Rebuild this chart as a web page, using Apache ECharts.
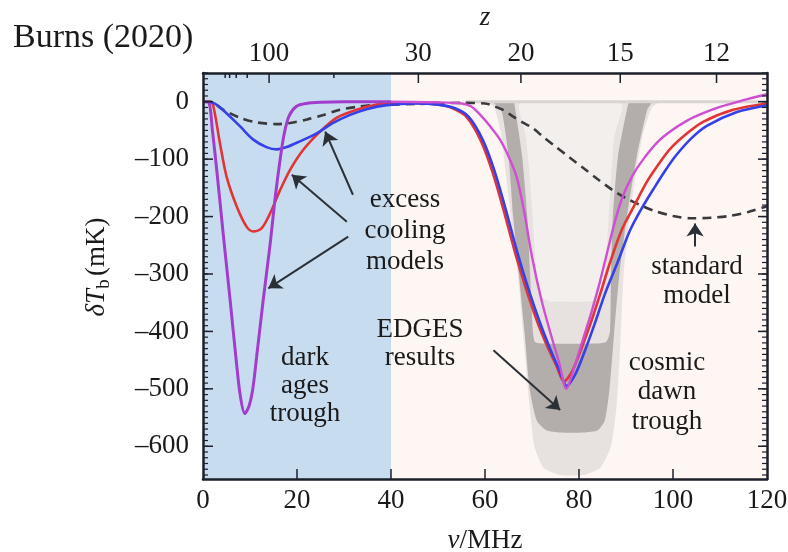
<!DOCTYPE html>
<html>
<head>
<meta charset="utf-8">
<script src="https://cdn.jsdelivr.net/npm/echarts@6.0.0/dist/echarts.min.js"></script>
<style>
  html, body { margin: 0; padding: 0; background: #ffffff; }
  #chart { width: 788px; height: 552px; }
</style>
</head>
<body>
<div id="chart"></div>
<script>
// 21-cm global signal: brightness temperature vs. frequency / redshift
const REST_FREQ = 1420.4; // MHz

// axis ticks
const nuTicks = [0, 20, 40, 60, 80, 100, 120];
const tbTicks = [0, -100, -200, -300, -400, -500, -600];
const tbMinorStep = 10;
const zMajor = [100, 30, 20, 15, 12];
const zMinor = [300, 250, 200, 150, 50];

// era shading (MHz)
const darkAgesRange = [0, 40];
const cosmicDawnRange = [40, 120];

// standard model (dashed)
const nuStandard = [0, 1.5, 4.3, 7.9, 11.4, 15.7, 18.5, 22.1, 25.6, 29.1, 32.7, 36.2, 40, 45, 50, 55, 60, 62, 64, 66, 68, 70, 72.5, 75, 78, 81, 84, 87, 90, 93, 96, 100, 104, 108, 112, 116, 120];
const tbStandard = [0, 0, -14, -28, -36, -39, -37, -31, -23, -14, -9, -6, -5, -4, -3, -2, -3, -8, -15, -26, -36, -45, -62, -78, -97, -116, -135, -153, -168, -180, -190, -199, -203, -202, -199, -192, -182];

// excess cooling model (blue)
const nuBlue = [0, 2.2, 5, 7.9, 10.7, 13.5, 15.7, 17.8, 20.6, 24.2, 27.7, 31.3, 34.8, 39.1, 45, 50, 53.5, 56.5, 59.5, 62, 64.5, 66.8, 69.2, 71.7, 73.7, 75.7, 77.4, 79.2, 81.2, 83.2, 85.5, 88.2, 90.8, 93.4, 96, 98.5, 100.8, 104, 107.2, 113.6, 120];
const tbBlue = [0, -2, -20, -43, -66, -79, -83, -79, -69, -55, -37, -23, -13, -6, -3, -5, -11, -26, -66, -120, -190, -260, -325, -385, -427, -465, -495, -475, -435, -390, -335, -280, -225, -185, -150, -118, -92, -63, -42, -18, -6];

// excess cooling model (red)
const nuRed = [0, 1.5, 2.2, 3.6, 5, 7.2, 9.3, 10.7, 12.5, 14.3, 16.4, 18.5, 21.3, 24.9, 28.4, 32.7, 37, 40.4, 46, 50, 53, 56, 59, 61.5, 64, 66.3, 68.7, 71.2, 73.2, 75.2, 76.8, 78.5, 80.5, 82.5, 84.5, 86.6, 89, 91.5, 94.4, 97, 99.4, 103, 106.4, 112.8, 120];
const tbRed = [0, 0, -8, -72, -130, -183, -218, -226, -220, -194, -154, -119, -84, -52, -28, -14, -5, -2, -2, -5, -11, -26, -66, -120, -190, -260, -325, -385, -425, -460, -487, -470, -430, -385, -335, -280, -225, -185, -140, -108, -82, -55, -35, -14, -3];

// excess cooling model (violet, dark ages part)
const nuViolet = [0, 1.2, 2, 3, 4.3, 5.7, 7, 7.9, 8.9, 9.8, 10.6, 11.4, 12.8, 14.3, 15.3, 16.4, 17.3, 18.3, 19.9, 22, 25, 30, 40];
const tbViolet = [0, -1, -50, -125, -230, -340, -445, -510, -543, -530, -500, -445, -346, -247, -171, -101, -55, -25, -8, -3, -1, 0, 0];

// same model, cosmic dawn part (magenta)
const nuMagenta = [40, 50, 55, 57, 59, 61, 63.2, 65, 66.7, 68.3, 70, 72, 74, 75.8, 77.3, 79, 80.8, 82.7, 84.4, 86, 87.6, 89.3, 91.3, 93.7, 96.5, 99.4, 103, 106.4, 110, 113, 116, 120];
const tbMagenta = [0, -1, -3, -8, -23, -42, -66, -95, -130, -190, -270, -345, -405, -455, -500, -462, -415, -365, -315, -262, -210, -165, -130, -100, -72, -52, -33, -20, -9, -2, 5, 13];

// EDGES result envelopes
const edgesWideNu = [60.5, 62, 63.5, 64.5, 65.5, 67, 68.3, 69.5, 70.5, 72.5, 76, 81, 84.5, 86.8, 88, 88.8, 89.5, 90.8, 92, 93.5, 95.5, 97];
const edgesWideTb = [0, -10, -60, -130, -200, -300, -420, -530, -600, -638, -650, -650, -638, -600, -530, -420, -300, -200, -130, -60, -10, 0];
const edgesGapNu = [67.5, 68.7, 69.8, 70.6, 71.3, 72.5, 74, 82, 84, 85.2, 85.9, 86.6, 87.5, 89];
const edgesGapTb = [-3, -60, -160, -260, -320, -343, -348, -348, -343, -320, -260, -160, -60, -3];
const edgesCoreNu = [61.7, 63.5, 65, 66, 67.2, 68.4, 69.5, 71, 73, 76, 81, 84, 85.5, 86.5, 87.5, 88.6, 90.2, 92.3, 94.5, 95.5,
                     90.8, 90.2, 88.3, 87.2, 86.8, 86.6, 85.8, 84, 72, 70.6, 70.2, 69.6, 69, 67.9, 66.2, 65.8];
const edgesCoreTb = [0, -15, -95, -200, -300, -400, -500, -555, -572, -576, -576, -572, -555, -500, -400, -300, -200, -95, -14, 0,
                     0, -14, -95, -200, -300, -400, -418, -421, -421, -418, -400, -300, -200, -95, -2, 0];
const edgesFlatNu = [56, 120];
const edgesFlatTb = [0, 0];

// annotation arrows (tail -> head)
const arrowTails = [[31.9, -162], [30.6, -209], [30.9, -235], [61.8, -433], [104.7, -252]];
const arrowHeads = [[26, -52], [18.9, -127], [13.9, -325], [76, -537], [104.7, -212]];

const SERIF = 'Liberation Serif';
const INK = '#1a1a1a';
const FRAME = '#1d1f2a';
const ERA_COLORS = ['#c8dcf0', '#fdf6f3'];

function zip(xs, ys) { return xs.map((x, i) => [x, ys[i]]); }
function zToNu(z) { return REST_FREQ / (1 + z); }
function fmtTb(v) { return v < 0 ? '\u2013' + Math.abs(v) : String(v); }

const tbMinor = [];
for (let v = 50; v >= -650; v -= tbMinorStep) tbMinor.push(v);

const yMin = -657, yMax = 50;
const nuMin = nuTicks[0], nuMax = nuTicks[nuTicks.length - 1];

// shaded eras, drawn as rectangles spanning the full temperature range
const eraSeries = {
  type: 'custom', silent: true, z: -10,
  data: [darkAgesRange, cosmicDawnRange],
  renderItem: function (params, api) {
    const p0 = api.coord([api.value(0), yMax]);
    const p1 = api.coord([api.value(1), yMin]);
    return {
      type: 'rect',
      shape: { x: p0[0], y: p0[1], width: p1[0] - p0[0], height: p1[1] - p0[1] },
      style: { fill: ERA_COLORS[params.dataIndex] }
    };
  }
};

// inward frame ticks: kind -> 0 left minor, 1 left major, 2 right minor, 3 right major,
// 4 bottom (frequency), 5 top major (redshift), 6 top minor (redshift)
const TICK_LEN = [5, 10, 5, 9, 10, 10, 5];
const tickItems = [].concat(
  tbMinor.map(v => [0, v]), tbTicks.map(v => [1, v]),
  tbMinor.map(v => [2, v]), tbTicks.map(v => [3, v]),
  nuTicks.slice(1, -1).map(v => [4, v]),
  zMajor.map(z => [5, zToNu(z)]), zMinor.map(z => [6, zToNu(z)])
);
const tickSeries = {
  type: 'custom', silent: true, z: 9, clip: false,
  data: tickItems,
  renderItem: function (params, api) {
    const kind = api.value(0), v = api.value(1), len = TICK_LEN[kind];
    let p, q;
    if (kind <= 1) { p = api.coord([nuMin, v]); q = [p[0] + len, p[1]]; }
    else if (kind <= 3) { p = api.coord([nuMax, v]); q = [p[0] - len, p[1]]; }
    else if (kind === 4) { p = api.coord([v, yMin]); q = [p[0], p[1] - len]; }
    else { p = api.coord([v, yMax]); q = [p[0], p[1] + len]; }
    return {
      type: 'line',
      shape: { x1: p[0], y1: p[1], x2: q[0], y2: q[1] },
      style: { stroke: FRAME, lineWidth: (kind === 0 || kind === 2) ? 1.2 : 1.5 }
    };
  }
};

function band(nu, tb, color, z) {
  return {
    type: 'custom', silent: true, z: z, data: [[nu[0], tb[0]]],
    renderItem: function (params, api) {
      const pts = nu.map((v, i) => api.coord([v, tb[i]]));
      return { type: 'polygon', shape: { points: pts, smooth: 0.2 }, style: { fill: color } };
    }
  };
}

function curve(nu, tb, color, width, z, extra) {
  return Object.assign({
    type: 'line', data: zip(nu, tb), showSymbol: false, silent: true,
    smooth: 0.3, z: z,
    lineStyle: { color: color, width: width }
  }, extra || {});
}

const labelFont = { fontFamily: SERIF, fontSize: 27, color: INK };
const frameLine = { show: true, onZero: false, lineStyle: { color: FRAME, width: 2.5 } };

function note(x, y, text, lineHeight) {
  return {
    type: 'text', x: x, y: y, z: 100, silent: true,
    style: { text: text, fontFamily: SERIF, fontSize: 27, lineHeight: lineHeight, fill: INK, align: 'center', verticalAlign: 'middle' }
  };
}

const chart = echarts.init(document.getElementById('chart'), null, { renderer: 'canvas' });

chart.setOption({
  animation: false,
  backgroundColor: '#ffffff',
  grid: { left: 203, right: 21, top: 73, bottom: 73, containLabel: false, outerBoundsMode: 'none' },
  xAxis: [
    {
      type: 'value', position: 'bottom', min: nuMin, max: nuMax, interval: 20, z: 10,
      axisLine: frameLine,
      axisTick: { show: false },
      axisLabel: Object.assign({ margin: 8, formatter: v => String(v) }, labelFont),
      splitLine: { show: false },
      name: '{i|\u03bd}/MHz', nameLocation: 'middle', nameGap: 48,
      nameTextStyle: Object.assign({ rich: { i: { fontFamily: SERIF, fontSize: 27, fontStyle: 'italic', color: INK } } }, labelFont)
    },
    {
      type: 'value', position: 'top', min: nuMin, max: nuMax, z: 10,
      axisLine: frameLine,
      axisTick: { show: false },
      axisLabel: Object.assign({ margin: 6, customValues: zMajor.map(zToNu), formatter: v => String(Math.round(REST_FREQ / v - 1)) }, labelFont),
      splitLine: { show: false },
      name: 'z', nameLocation: 'middle', nameGap: 42,
      nameTextStyle: Object.assign({}, labelFont, { fontStyle: 'italic' })
    }
  ],
  yAxis: [
    {
      type: 'value', position: 'left', min: yMin, max: yMax, z: 10,
      axisLine: frameLine,
      axisTick: { show: false },
      axisLabel: Object.assign({ margin: 14, customValues: tbTicks, formatter: fmtTb }, labelFont),
      splitLine: { show: false }
    },
    {
      type: 'value', position: 'right', min: yMin, max: yMax, z: 10,
      axisLine: frameLine,
      axisTick: { show: false },
      axisLabel: { show: false }, splitLine: { show: false }
    }
  ],
  series: [
    eraSeries,
    curve(edgesFlatNu, edgesFlatTb, '#d9d4d2', 3, -9, { smooth: false }),
    band(edgesWideNu, edgesWideTb, '#e7e2e0', -9),
    band(edgesGapNu, edgesGapTb, '#f3efed', -9),
    band(edgesCoreNu, edgesCoreTb, '#b3adab', -9),
    curve(nuStandard, tbStandard, '#3a3a3e', 2.6, 3, { lineStyle: { color: '#3a3a3e', width: 2.6, type: [9, 6] } }),
    curve(nuRed, tbRed, '#e23434', 2.6, 4),
    curve(nuBlue, tbBlue, '#3440ea', 2.6, 5),
    curve(nuViolet, tbViolet, '#a23ccc', 3, 6),
    curve(nuMagenta, tbMagenta, '#cf4fd2', 2.4, 6),
    tickSeries,
    {
      type: 'line', data: [], silent: true, z: 8,
      markLine: {
        silent: true, symbol: ['none', 'arrow'], symbolSize: 13, precision: 2,
        label: { show: false },
        lineStyle: { color: '#2b3036', width: 2, type: 'solid' },
        emphasis: { disabled: true },
        data: arrowTails.map((t, i) => [{ coord: t }, { coord: arrowHeads[i] }])
      }
    }
  ],
  graphic: [
    { type: 'text', x: 13, y: 38, z: 100, style: { text: 'Burns (2020)', fontFamily: SERIF, fontSize: 34, fill: INK, align: 'left', verticalAlign: 'middle' } },
    {
      type: 'text', x: 97, y: 267, z: 100, rotation: Math.PI / 2,
      style: {
        text: '{i|\u03b4T}{s|b} {n|(mK)}', align: 'center', verticalAlign: 'middle',
        rich: {
          i: { fontFamily: SERIF, fontSize: 27, fontStyle: 'italic', fill: INK, lineHeight: 34, verticalAlign: 'middle' },
          s: { fontFamily: SERIF, fontSize: 19, fill: INK, lineHeight: 34, verticalAlign: 'bottom' },
          n: { fontFamily: SERIF, fontSize: 27, fill: INK, lineHeight: 34, verticalAlign: 'middle' }
        }
      }
    },
    note(405, 231, 'excess\ncooling\nmodels', 31),
    note(305, 386, 'dark\nages\ntrough', 28),
    note(420, 344, 'EDGES\nresults', 28),
    note(667, 392, 'cosmic\ndawn\ntrough', 29.5),
    note(697, 281.5, 'standard\nmodel', 29)
  ]
});
</script>
</body>
</html>
